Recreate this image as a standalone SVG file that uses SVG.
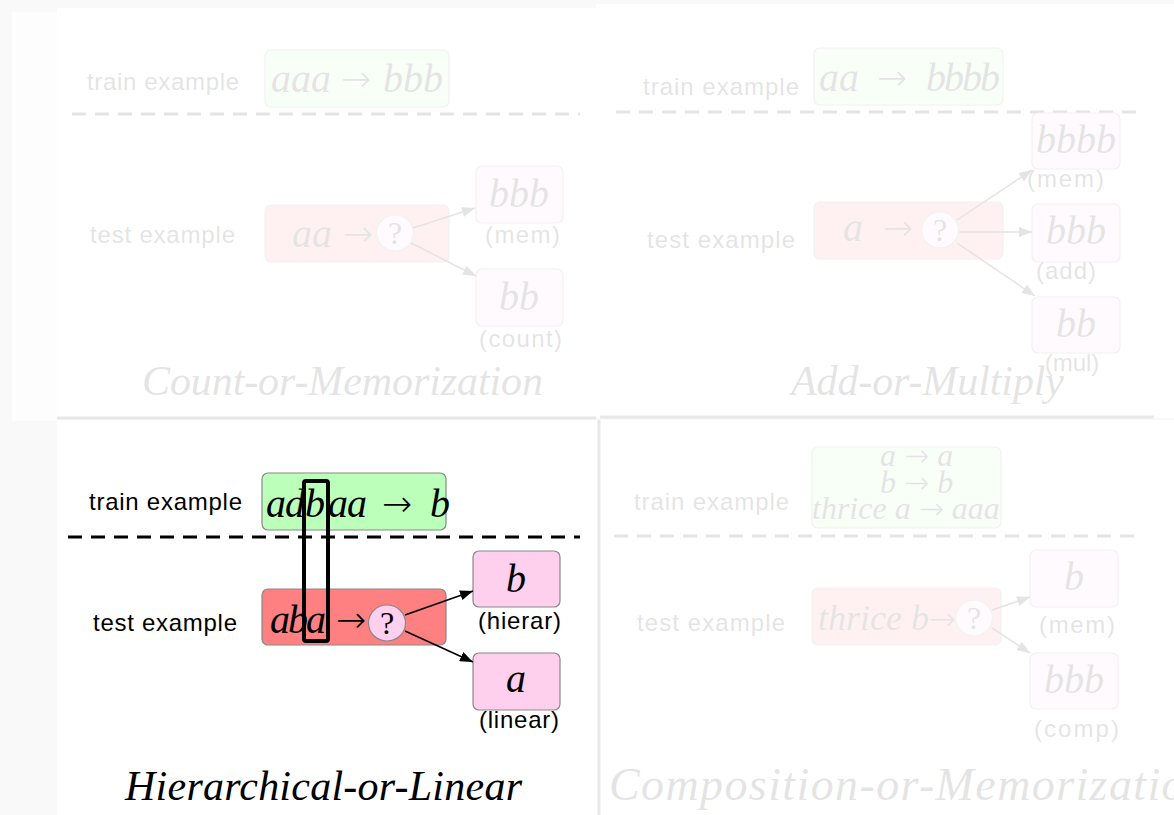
<svg xmlns="http://www.w3.org/2000/svg" width="1174" height="815" viewBox="0 0 1174 815">
<style>
.lbl{font-family:"Liberation Sans",Arial,sans-serif;font-size:24px;fill:#000}
.math{font-family:"Liberation Serif","DejaVu Serif",serif;font-style:italic;font-size:40px;fill:#000}
.ar{font-family:"DejaVu Sans","DejaVu Sans Light",sans-serif;font-weight:200;font-style:normal;font-size:36px;fill:#000}
.q{font-family:"Liberation Serif","DejaVu Serif",serif;font-size:32px;fill:#000}
.title{font-family:"Liberation Serif","DejaVu Serif",serif;font-style:italic;font-size:42px;fill:#000}
.train{fill:#bbffbb;stroke:#888;stroke-width:1.2}
.test{fill:#ff8080;stroke:#888;stroke-width:1.2}
.out{fill:#ffd0ee;stroke:#888;stroke-width:1.2}
.dash{stroke:#000;stroke-width:3;stroke-dasharray:14 9;fill:none}
.conn{stroke:#000;stroke-width:1.5;fill:none;marker-end:url(#ah)}
.sep{stroke:#e8e8e8;stroke-width:3;fill:none}
.faded{opacity:0.1}
</style>
<defs>
<marker id="ah" markerUnits="userSpaceOnUse" markerWidth="13" markerHeight="10" refX="13" refY="5" orient="auto">
<path d="M0,0 L13,5 L0,10 z" fill="#000"/>
</marker>
</defs>

<g id="background">
<rect x="0" y="0" width="1174" height="815" fill="#f9f9f9"/>
<rect x="12" y="12" width="45" height="409" fill="#fdfdfd"/>
<rect x="57" y="8" width="539" height="410" fill="#fff"/>
<rect x="596" y="4" width="578" height="414" fill="#fff"/>
<rect x="57" y="420" width="541" height="395" fill="#fff"/>
<rect x="600" y="420" width="574" height="395" fill="#fff"/>
<line class="sep" x1="57" y1="418" x2="596" y2="418"/>
<line class="sep" x1="600" y1="417" x2="1154" y2="417"/>
<line class="sep" x1="599" y1="420" x2="599" y2="815"/>
</g>

<!-- Panel 1: Count-or-Memorization (faded) -->
<g id="panel-count" class="faded">
<g id="cm-train"><text class="lbl" x="87" y="90" textLength="152">train example</text>
<rect class="train" x="265" y="50" width="184" height="57" rx="6"/>
<text class="math" x="271" y="92">aaa</text><text class="ar" x="341" y="91">→</text><text class="math" x="383" y="92">bbb</text></g>
<line class="dash" x1="72" y1="114" x2="580" y2="114"/>
<g id="cm-test"><text class="lbl" x="90" y="243" textLength="145">test example</text>
<rect class="test" x="265" y="205" width="184" height="57" rx="6"/>
<text class="math" x="292" y="247">aa</text><text class="ar" x="343" y="246">→</text>
<ellipse class="out" cx="395" cy="233" rx="18.5" ry="18"/><text class="q" x="395" y="244" text-anchor="middle">?</text></g>
<g id="cm-mem"><rect class="out" x="476" y="166" width="87" height="57" rx="6"/>
<text class="math" x="519" y="207" text-anchor="middle">bbb</text>
<text class="lbl" x="485" y="243" textLength="75">(mem)</text></g>
<g id="cm-count"><rect class="out" x="476" y="269" width="87" height="57" rx="6"/>
<text class="math" x="519" y="310" text-anchor="middle">bb</text>
<text class="lbl" x="479" y="347" textLength="83">(count)</text></g>
<g id="cm-connectors">
<line class="conn" x1="413" y1="228" x2="475" y2="208"/>
<line class="conn" x1="411" y1="243" x2="476" y2="276"/>
</g>
<text class="title" x="142" y="395" textLength="401">Count-or-Memorization</text>
</g>

<!-- Panel 2: Add-or-Multiply (faded) -->
<g id="panel-add" class="faded">
<g id="am-train"><text class="lbl" x="643" y="95" textLength="156">train example</text>
<rect class="train" x="814" y="48" width="189" height="57" rx="6"/>
<text class="math" x="819" y="91">aa</text><text class="ar" x="877" y="90">→</text><text class="math" x="926 944 962 980" y="91">bbbb</text></g>
<line class="dash" x1="616" y1="112" x2="1138" y2="112"/>
<g id="am-test"><text class="lbl" x="647" y="248" textLength="148">test example</text>
<rect class="test" x="814" y="202" width="189" height="57" rx="6"/>
<text class="math" x="843" y="241">a</text><text class="ar" x="883" y="240">→</text>
<ellipse class="out" cx="940" cy="230" rx="18.5" ry="18"/><text class="q" x="940" y="241" text-anchor="middle">?</text></g>
<g id="am-mem"><rect class="out" x="1032" y="113" width="88" height="56" rx="6"/>
<text class="math" x="1076" y="153" text-anchor="middle">bbbb</text>
<text class="lbl" x="1027" y="187" textLength="77">(mem)</text></g>
<g id="am-add"><rect class="out" x="1032" y="204" width="88" height="58" rx="6"/>
<text class="math" x="1076" y="244" text-anchor="middle">bbb</text>
<text class="lbl" x="1036" y="279" textLength="60">(add)</text></g>
<g id="am-mul"><rect class="out" x="1032" y="297" width="88" height="56" rx="6"/>
<text class="math" x="1076" y="337" text-anchor="middle">bb</text>
<text class="lbl" x="1072" y="371" text-anchor="middle">(mul)</text></g>
<g id="am-connectors">
<line class="conn" x1="957" y1="220" x2="1032" y2="170"/>
<line class="conn" x1="959" y1="232" x2="1032" y2="232"/>
<line class="conn" x1="957" y1="243" x2="1035" y2="296"/>
</g>
<text class="title" x="791" y="395" textLength="273">Add-or-Multiply</text>
</g>

<!-- Panel 3: Hierarchical-or-Linear (active) -->
<g id="panel-hier">
<g id="hl-train"><text class="lbl" x="89" y="510" textLength="153">train example</text>
<rect class="train" x="262" y="473" width="184" height="57" rx="6"/>
<text class="math" x="266 285 305 328 347" y="517">adbaa</text>
<text class="ar" x="382" y="516">→</text>
<text class="math" x="430" y="517">b</text></g>
<line class="dash" x1="68" y1="537" x2="580" y2="537"/>
<g id="hl-test"><text class="lbl" x="93" y="631" textLength="144">test example</text>
<rect class="test" x="262" y="589" width="184" height="56" rx="6"/>
<text class="math" x="270 288 306" y="633">aba</text>
<text class="ar" x="336" y="632">→</text>
<ellipse class="out" cx="387" cy="623" rx="18.5" ry="18"/>
<text class="q" x="387" y="634" text-anchor="middle">?</text></g>
<rect id="hl-highlight" x="304" y="481" width="24" height="160" rx="2" fill="none" stroke="#000" stroke-width="4"/>
<g id="hl-hierar"><rect class="out" x="473" y="551" width="87" height="56" rx="6"/>
<text class="math" x="516" y="592" text-anchor="middle">b</text>
<text class="lbl" x="478" y="629" textLength="83">(hierar)</text></g>
<g id="hl-linear"><rect class="out" x="473" y="653" width="87" height="57" rx="6"/>
<text class="math" x="516" y="692" text-anchor="middle">a</text>
<text class="lbl" x="479" y="728" textLength="80">(linear)</text></g>
<g id="hl-connectors">
<line class="conn" x1="405" y1="615" x2="473" y2="591"/>
<line class="conn" x1="405" y1="631" x2="473" y2="662"/>
</g>
<text class="title" x="125" y="800" textLength="397">Hierarchical-or-Linear</text>
</g>

<!-- Panel 4: Composition-or-Memorization (faded) -->
<g id="panel-comp" class="faded">
<g id="co-train"><text class="lbl" x="634" y="510" textLength="155">train example</text>
<rect class="train" x="812" y="447" width="189" height="81" rx="6"/>
<text class="math" style="font-size:32px"><tspan x="880" y="466">a </tspan><tspan class="ar" style="font-size:30px">→</tspan><tspan> a</tspan><tspan x="880" y="493">b </tspan><tspan class="ar" style="font-size:30px">→</tspan><tspan> b</tspan><tspan x="812" y="519">thrice a </tspan><tspan class="ar" style="font-size:30px">→</tspan><tspan> aaa</tspan></text></g>
<line class="dash" x1="614" y1="536" x2="1136" y2="536"/>
<g id="co-test"><text class="lbl" x="637" y="631" textLength="148">test example</text>
<rect class="test" x="812" y="588" width="189" height="57" rx="6"/>
<text class="math" style="font-size:36px"><tspan x="818" y="630">thrice b</tspan><tspan class="ar" style="font-size:32px">→</tspan></text>
<ellipse class="out" cx="974" cy="618" rx="18.5" ry="18"/><text class="q" x="974" y="629" text-anchor="middle">?</text></g>
<g id="co-mem"><rect class="out" x="1030" y="550" width="88" height="57" rx="6"/>
<text class="math" x="1074" y="590" text-anchor="middle">b</text>
<text class="lbl" x="1039" y="633" textLength="76">(mem)</text></g>
<g id="co-comp"><rect class="out" x="1030" y="653" width="88" height="56" rx="6"/>
<text class="math" x="1074" y="693" text-anchor="middle">bbb</text>
<text class="lbl" x="1034" y="737" textLength="85">(comp)</text></g>
<g id="co-connectors">
<line class="conn" x1="992" y1="610" x2="1030" y2="597"/>
<line class="conn" x1="992" y1="628" x2="1030" y2="653"/>
</g>
<text class="title" x="609" y="800" style="font-size:46px" textLength="600">Composition-or-Memorization</text>
</g>
</svg>
